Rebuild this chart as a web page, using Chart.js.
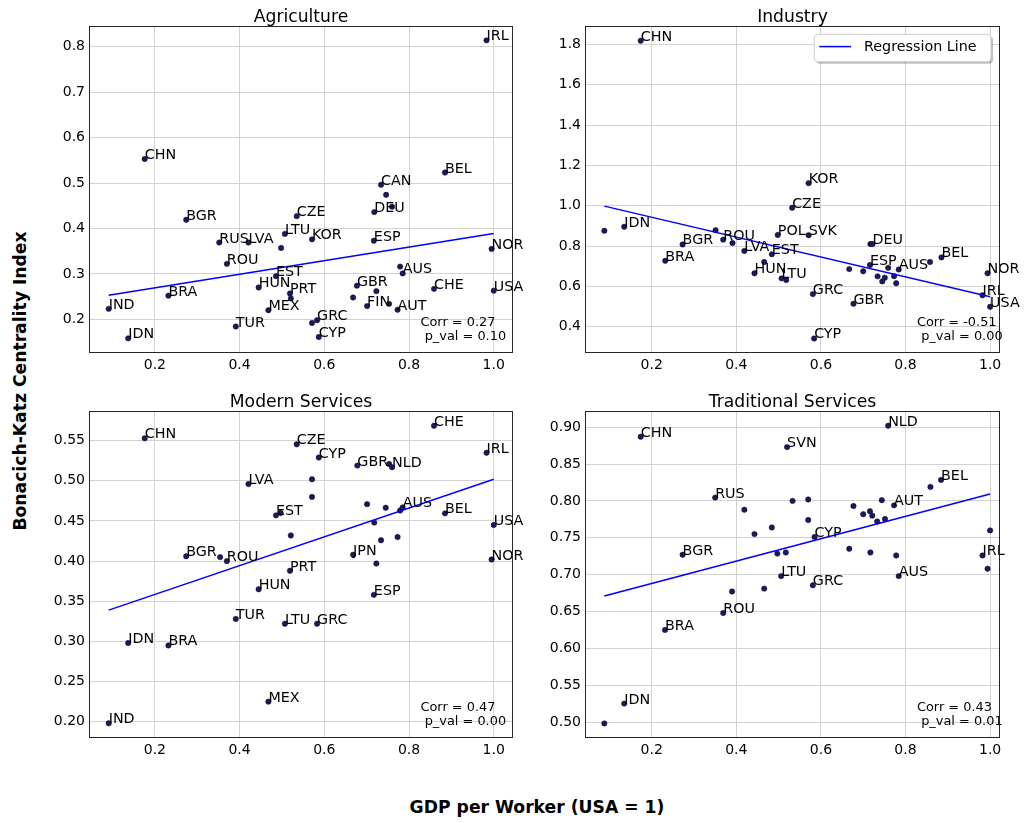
<!DOCTYPE html>
<html>
<head>
<meta charset="utf-8">
<script src="https://cdn.jsdelivr.net/npm/chart.js@4.4.1/dist/chart.umd.min.js"></script>
<style>
  html, body { margin: 0; padding: 0; background: #fff; }
  #fig { position: relative; width: 1027px; height: 823px; background: #fff; overflow: hidden; }
  #fig canvas { position: absolute; }
  .axlab { position: absolute; font: bold 17.2px 'DejaVu Sans', sans-serif; color: #000; white-space: nowrap; }
</style>
</head>
<body>
<div id="fig">
  <canvas id="agriChart" width="500" height="385" style="left:30px;top:0px"></canvas>
  <canvas id="indChart"  width="490" height="385" style="left:530px;top:0px"></canvas>
  <canvas id="modChart"  width="500" height="385" style="left:30px;top:385px"></canvas>
  <canvas id="tradChart" width="490" height="385" style="left:530px;top:385px"></canvas>
  <div class="axlab" style="left:20px;top:381px;transform:translate(-50%,-50%) rotate(-90deg)">Bonacich-Katz Centrality Index</div>
  <div class="axlab" style="left:537px;top:807px;transform:translate(-50%,-50%)">GDP per Worker (USA = 1)</div>
</div>
<script>
// ── Shared ticks ──────────────────────────────────────────────────────────────
const xTicks = [0.2, 0.4, 0.6, 0.8, 1.0];

// ── Agriculture ───────────────────────────────────────────────────────────────
const agriNames = ['IND','IDN','CHN','BRA','BGR','RUS','ROU','TUR','LVA','HUN','MEX','EST','','LTU','PRT','',
  'CZE','KOR','','GRC','CYP','','GBR','FIN','ESP','DEU','','CAN','','','','AUT','','AUS','CHE','BEL','IRL','NOR','USA'];
const agriX = [0.091,0.137,0.176,0.232,0.274,0.352,0.370,0.391,0.421,0.445,0.468,0.486,0.498,0.507,0.519,0.521,
  0.535,0.571,0.571,0.583,0.587,0.668,0.677,0.701,0.717,0.718,0.723,0.734,0.746,0.753,0.760,0.773,0.779,0.785,0.859,0.885,0.983,0.995,1.000];
const agriY = [0.223,0.158,0.553,0.252,0.419,0.369,0.322,0.184,0.369,0.270,0.220,0.295,0.357,0.388,0.257,0.246,
  0.427,0.376,0.192,0.198,0.161,0.248,0.274,0.229,0.373,0.436,0.262,0.496,0.474,0.234,0.448,0.221,0.316,0.301,0.267,0.523,0.814,0.355,0.263];
const agriFitX = [0.091, 1.0];
const agriFitY = [0.253, 0.389];
const agriYTicks = [0.2, 0.3, 0.4, 0.5, 0.6, 0.7, 0.8];
const agriStats = ['Corr = 0.27', 'p_val = 0.10'];

// ── Industry ──────────────────────────────────────────────────────────────────
const indNames = ['','IDN','CHN','BRA','BGR','','ROU','','LVA','HUN','','EST','POL','LTU','',
  'CZE','KOR','SVK','GRC','CYP','','GBR','','ESP','','DEU','','','','','','','AUS','','BEL','IRL','NOR','USA'];
const indX = [0.088,0.135,0.174,0.232,0.273,0.351,0.369,0.391,0.419,0.443,0.466,0.484,0.498,0.507,0.518,
  0.532,0.571,0.571,0.581,0.584,0.667,0.677,0.700,0.716,0.717,0.722,0.734,0.745,0.751,0.759,0.773,0.778,0.784,0.858,0.885,0.982,0.994,1.000];
const indY = [0.876,0.896,1.818,0.727,0.808,0.879,0.832,0.815,0.776,0.665,0.721,0.759,0.855,0.640,0.632,
  0.990,1.112,0.854,0.562,0.342,0.686,0.514,0.675,0.706,0.810,0.810,0.650,0.625,0.643,0.692,0.651,0.616,0.684,0.721,0.744,0.556,0.665,0.499];
const indFitX = [0.088, 1.0];
const indFitY = [0.998, 0.549];
const indYTicks = [0.4, 0.6, 0.8, 1.0, 1.2, 1.4, 1.6, 1.8];
const indStats = ['Corr = -0.51', 'p_val = 0.00'];

// ── Modern Services ───────────────────────────────────────────────────────────
const modNames = ['IND','IDN','CHN','BRA','BGR','','ROU','TUR','LVA','HUN','MEX','EST','','LTU','PRT','',
  'CZE','','','GRC','CYP','JPN','GBR','','ESP','','','','','','NLD','','','AUS','CHE','BEL','IRL','NOR','USA'];
const modX = [0.091,0.137,0.176,0.232,0.274,0.354,0.370,0.391,0.421,0.445,0.468,0.486,0.497,0.507,0.519,0.521,
  0.535,0.571,0.571,0.583,0.587,0.668,0.678,0.701,0.717,0.718,0.723,0.734,0.745,0.753,0.760,0.773,0.779,0.785,0.859,0.885,0.983,0.995,1.000];
const modY = [0.198,0.298,0.553,0.295,0.406,0.405,0.400,0.328,0.496,0.365,0.225,0.457,0.460,0.322,0.388,0.432,
  0.5455,0.502,0.480,0.322,0.529,0.408,0.519,0.471,0.358,0.448,0.397,0.426,0.4665,0.521,0.517,0.430,0.463,0.467,0.5687,0.4595,0.535,0.402,0.445];
const modFitX = [0.091, 1.0];
const modFitY = [0.339, 0.502];
const modYTicks = [0.20, 0.25, 0.30, 0.35, 0.40, 0.45, 0.50, 0.55];
const modStats = ['Corr = 0.47', 'p_val = 0.00'];

// ── Traditional Services ──────────────────────────────────────────────────────
const tradNames = ['','IDN','CHN','BRA','BGR','RUS','ROU','','','','','','','LTU','','SVN','','','',
  'GRC','CYP','','','','','','','','','','NLD','AUT','','AUS','','BEL','IRL','',''];
const tradX = [0.088,0.135,0.174,0.2315,0.273,0.350,0.369,0.390,0.419,0.443,0.466,0.484,0.497,0.506,0.517,0.520,0.533,0.570,0.570,
  0.581,0.585,0.667,0.677,0.700,0.716,0.717,0.7215,0.733,0.744,0.7515,0.759,0.773,0.778,0.784,0.859,0.884,0.982,1.000,0.994];
const tradY = [0.498,0.525,0.887,0.625,0.727,0.8045,0.648,0.677,0.788,0.755,0.681,0.764,0.7285,0.698,0.730,0.873,0.800,0.802,0.774,
  0.6855,0.751,0.735,0.793,0.782,0.786,0.730,0.780,0.772,0.801,0.7755,0.902,0.794,0.726,0.698,0.819,0.8285,0.726,0.760,0.708];
const tradFitX = [0.088, 1.0];
const tradFitY = [0.671, 0.8095];
const tradYTicks = [0.50, 0.55, 0.60, 0.65, 0.70, 0.75, 0.80, 0.85, 0.90];
const tradStats = ['Corr = 0.43', 'p_val = 0.01'];

// ── Chart.js defaults ─────────────────────────────────────────────────────────
Chart.defaults.font.family = "'DejaVu Sans', sans-serif";
Chart.defaults.color = '#000';
const FONT = "'DejaVu Sans', sans-serif";
const GRID = '#d2d2d2';
const DOT = { fill: '#1a1a5c', edge: '#07072a' };

// Frame, title, point labels, stats text and legend drawn on top of the plot
const panelDecor = {
  id: 'panelDecor',
  afterDraw(chart, args, o) {
    const { ctx, chartArea: a, scales: { x, y } } = chart;
    ctx.save();

    // point labels: left edge at the point, baseline at the point
    ctx.fillStyle = '#000';
    ctx.font = `14.3px ${FONT}`;
    ctx.textAlign = 'left';
    ctx.textBaseline = 'alphabetic';
    o.names.forEach((n, i) => {
      if (!n) return;
      ctx.fillText(n, x.getPixelForValue(o.xs[i]), y.getPixelForValue(o.ys[i]));
    });

    // stats text
    ctx.font = `12.9px ${FONT}`;
    ctx.fillText(o.stats[0], x.getPixelForValue(0.827), a.bottom - 27);
    ctx.fillText(o.stats[1], x.getPixelForValue(0.837), a.bottom - 13);

    // frame
    ctx.strokeStyle = '#262626';
    ctx.lineWidth = 1;
    const l = Math.round(a.left), t = Math.round(a.top), r = Math.round(a.right), b = Math.round(a.bottom);
    ctx.strokeRect(l + 0.5, t + 0.5, r - l - 1, b - t - 1);

    // title
    ctx.font = `17.2px ${FONT}`;
    ctx.textAlign = 'center';
    ctx.fillText(o.title, (a.left + a.right) / 2, a.top - 4);

    // legend
    if (o.legend) {
      const w = 176.7, h = 27.4;
      const bx = a.right - 9 - w, by = a.top + 8.3;
      ctx.fillStyle = 'rgba(0,0,0,0.25)';
      roundRect(ctx, bx + 2, by + 2, w, h, 4);
      ctx.fill();
      ctx.fillStyle = '#fff';
      ctx.strokeStyle = '#cccccc';
      roundRect(ctx, bx, by, w, h, 4);
      ctx.fill();
      ctx.stroke();
      ctx.strokeStyle = '#0000ff';
      ctx.lineWidth = 1.5;
      ctx.beginPath();
      ctx.moveTo(bx + 5, by + 12.3);
      ctx.lineTo(bx + 36.7, by + 12.3);
      ctx.stroke();
      ctx.fillStyle = '#000';
      ctx.font = `14.3px ${FONT}`;
      ctx.textAlign = 'left';
      ctx.textBaseline = 'middle';
      ctx.fillText(o.legend, bx + 49.7, by + 12.8);
    }
    ctx.restore();
  }
};

function roundRect(ctx, x, y, w, h, r) {
  ctx.beginPath();
  ctx.moveTo(x + r, y);
  ctx.lineTo(x + w - r, y);
  ctx.arcTo(x + w, y, x + w, y + r, r);
  ctx.lineTo(x + w, y + h - r);
  ctx.arcTo(x + w, y + h, x + w - r, y + h, r);
  ctx.lineTo(x + r, y + h);
  ctx.arcTo(x, y + h, x, y + h - r, r);
  ctx.lineTo(x, y + r);
  ctx.arcTo(x, y, x + r, y, r);
  ctx.closePath();
}

// ── Panel builder ─────────────────────────────────────────────────────────────
function renderPanel(id, p) {
  const pts = p.xs.map((v, i) => ({ x: v, y: p.ys[i] }));
  const fit = p.fitX.map((v, i) => ({ x: v, y: p.fitY[i] }));
  return new Chart(document.getElementById(id), {
    type: 'scatter',
    data: {
      datasets: [
        { label: 'points', data: pts, pointRadius: 2.7, pointHoverRadius: 2.7,
          backgroundColor: DOT.fill, borderColor: DOT.edge, borderWidth: 0.5, order: 2 },
        { label: 'Regression Line', data: fit, showLine: true, borderColor: '#0000ff',
          borderWidth: 1.5, pointRadius: 0, fill: false, order: 1 }
      ]
    },
    options: {
      responsive: false,
      animation: false,
      events: [],
      layout: { padding: { top: 26, right: p.padRight, bottom: 6, left: 0 } },
      plugins: {
        legend: { display: false },
        tooltip: { enabled: false },
        title: { display: false },
        panelDecor: p
      },
      scales: {
        x: {
          type: 'linear', min: p.xMin, max: p.xMax,
          afterFit: s => { s.height = 26; },
          afterBuildTicks: s => { s.ticks = xTicks.map(v => ({ value: v })); },
          ticks: { callback: v => v.toFixed(1), font: { size: 14 }, color: '#000', padding: 4, autoSkip: false, maxRotation: 0 },
          grid: { color: GRID, lineWidth: 1, drawTicks: false },
          border: { display: false }
        },
        y: {
          type: 'linear', min: p.yMin, max: p.yMax,
          afterFit: s => { s.width = p.yWidth; },
          afterBuildTicks: s => { s.ticks = p.yTicks.map(v => ({ value: v })); },
          ticks: { callback: v => v.toFixed(p.yDec), font: { size: 14 }, color: '#000', padding: 4, autoSkip: false },
          grid: { color: GRID, lineWidth: 1, drawTicks: false },
          border: { display: false }
        }
      }
    },
    plugins: [panelDecor]
  });
}

// ── Init ──────────────────────────────────────────────────────────────────────
renderPanel('agriChart', {
  title: 'Agriculture', names: agriNames, xs: agriX, ys: agriY, fitX: agriFitX, fitY: agriFitY,
  yTicks: agriYTicks, yDec: 1, stats: agriStats,
  xMin: 0.0445, xMax: 1.0455, yMin: 0.1258, yMax: 0.8456, yWidth: 59, padRight: 17
});
renderPanel('indChart', {
  title: 'Industry', names: indNames, xs: indX, ys: indY, fitX: indFitX, fitY: indFitY,
  yTicks: indYTicks, yDec: 1, stats: indStats, legend: 'Regression Line',
  xMin: 0.0423, xMax: 1.0234, yMin: 0.270, yMax: 1.891, yWidth: 55, padRight: 20
});
renderPanel('modChart', {
  title: 'Modern Services', names: modNames, xs: modX, ys: modY, fitX: modFitX, fitY: modFitY,
  yTicks: modYTicks, yDec: 2, stats: modStats,
  xMin: 0.0445, xMax: 1.0455, yMin: 0.1797, yMax: 0.587, yWidth: 59, padRight: 17
});
renderPanel('tradChart', {
  title: 'Traditional Services', names: tradNames, xs: tradX, ys: tradY, fitX: tradFitX, fitY: tradFitY,
  yTicks: tradYTicks, yDec: 2, stats: tradStats,
  xMin: 0.0423, xMax: 1.0234, yMin: 0.4783, yMax: 0.922, yWidth: 55, padRight: 20
});
</script>
</body>
</html>
